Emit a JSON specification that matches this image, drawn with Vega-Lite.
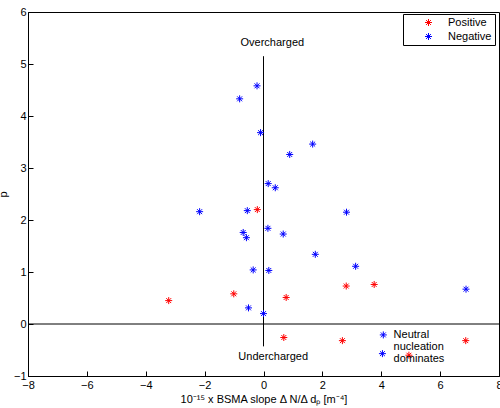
{
  "$schema": "https://vega.github.io/schema/vega-lite/v6.json",
  "width": 471,
  "height": 364,
  "autosize": {"type": "none"},
  "padding": {"left": 28, "top": 12, "right": 1, "bottom": 32},
  "config": {
    "font": "Liberation Sans",
    "view": {"stroke": "black", "strokeWidth": 1},
    "axis": {"grid": false, "domainColor": "black", "tickColor": "black", "labelColor": "black", "titleColor": "black", "labelFontSize": 11, "titleFontSize": 11, "titleFontWeight": "normal", "tickSize": -5, "labelPadding": 8, "labelOverlap": false, "labelBound": false, "labelFlush": false, "format": "d"}
  },
  "datasets": {
    "pts": [
      {"x": -0.81, "y": 4.33, "charge": "Negative"},
      {"x": -0.22, "y": 4.58, "charge": "Negative"},
      {"x": -0.10, "y": 3.68, "charge": "Negative"},
      {"x": 1.67, "y": 3.46, "charge": "Negative"},
      {"x": 0.89, "y": 3.26, "charge": "Negative"},
      {"x": 0.16, "y": 2.70, "charge": "Negative"},
      {"x": 0.40, "y": 2.62, "charge": "Negative"},
      {"x": -2.17, "y": 2.16, "charge": "Negative"},
      {"x": -0.55, "y": 2.18, "charge": "Negative"},
      {"x": -0.69, "y": 1.76, "charge": "Negative"},
      {"x": -0.58, "y": 1.66, "charge": "Negative"},
      {"x": -0.35, "y": 1.04, "charge": "Negative"},
      {"x": -0.51, "y": 0.31, "charge": "Negative"},
      {"x": 0.15, "y": 1.84, "charge": "Negative"},
      {"x": 0.67, "y": 1.73, "charge": "Negative"},
      {"x": 2.82, "y": 2.15, "charge": "Negative"},
      {"x": 1.76, "y": 1.34, "charge": "Negative"},
      {"x": 3.13, "y": 1.11, "charge": "Negative"},
      {"x": 0.18, "y": 1.03, "charge": "Negative"},
      {"x": 6.88, "y": 0.67, "charge": "Negative"},
      {"x": 0.0, "y": 0.20, "charge": "Negative"},
      {"x": -3.22, "y": 0.45, "charge": "Positive"},
      {"x": -1.01, "y": 0.58, "charge": "Positive"},
      {"x": -0.21, "y": 2.20, "charge": "Positive"},
      {"x": 0.77, "y": 0.51, "charge": "Positive"},
      {"x": 2.81, "y": 0.73, "charge": "Positive"},
      {"x": 3.76, "y": 0.76, "charge": "Positive"},
      {"x": 0.69, "y": -0.26, "charge": "Positive"},
      {"x": 2.68, "y": -0.32, "charge": "Positive"},
      {"x": 6.87, "y": -0.32, "charge": "Positive"},
      {"x": 4.94, "y": -0.60, "charge": "Positive"}
    ],
    "annoPts": [
      {"x": 4.07, "y": -0.21},
      {"x": 4.04, "y": -0.57}
    ],
    "labels": [
      {"x": 0.3, "y": 5.40, "text": "Overcharged"},
      {"x": 0.33, "y": -0.63, "text": "Undercharged"}
    ],
    "neutral": [
      {"x": 4.42, "y": -0.21, "text": "Neutral"},
      {"x": 4.42, "y": -0.44, "text": "nucleation"},
      {"x": 4.42, "y": -0.67, "text": "dominates"}
    ]
  },
  "layer": [
    {
      "data": {"values": [{"y": 0}]},
      "mark": {"type": "rule", "color": "black", "strokeWidth": 1},
      "encoding": {
        "y": {"field": "y", "type": "quantitative", "scale": {"domain": [-1, 6], "nice": false}, "axis": {"values": [-1, 0, 1, 2, 3, 4, 5, 6], "format": "d", "title": "p", "titlePadding": 5, "labelPadding": 7}}
      }
    },
    {
      "data": {"values": [{"x": 0, "y": -0.43, "y2": 5.15}]},
      "mark": {"type": "rule", "color": "black", "strokeWidth": 1},
      "encoding": {
        "x": {"field": "x", "type": "quantitative", "scale": {"domain": [-8, 8], "nice": false}, "axis": {"values": [-8, -6, -4, -2, 0, 2, 4, 6, 8], "format": "d", "title": "10⁻¹⁵ x BSMA slope Δ N/Δ dₚ [m⁻⁴]", "titlePadding": 3, "labelPadding": 8}},
        "y": {"field": "y", "type": "quantitative"},
        "y2": {"field": "y2"}
      }
    },
    {
      "data": {"name": "pts"},
      "mark": {"type": "point", "shape": "M-1,0H1M0,-1V1M-0.7,-0.7L0.7,0.7M-0.7,0.7L0.7,-0.7", "filled": false, "size": 49, "strokeWidth": 1, "opacity": 1},
      "encoding": {
        "x": {"field": "x", "type": "quantitative"},
        "y": {"field": "y", "type": "quantitative"},
        "color": {
          "field": "charge", "type": "nominal",
          "scale": {"domain": ["Positive", "Negative"], "range": ["red", "blue"]},
          "legend": {
            "title": null, "orient": "none", "legendX": 375, "legendY": 2,
            "strokeColor": "black", "fillColor": "white", "padding": 3,
            "symbolType": "M-1,0H1M0,-1V1M-0.7,-0.7L0.7,0.7M-0.7,0.7L0.7,-0.7",
            "symbolSize": 49, "symbolStrokeWidth": 1, "symbolFillColor": "transparent",
            "symbolOffset": 17, "labelOffset": 14, "labelFontSize": 11, "labelColor": "black", "rowPadding": 2
          }
        }
      }
    },
    {
      "data": {"name": "annoPts"},
      "mark": {"type": "point", "shape": "M-1,0H1M0,-1V1M-0.7,-0.7L0.7,0.7M-0.7,0.7L0.7,-0.7", "filled": false, "size": 49, "strokeWidth": 1, "color": "blue", "opacity": 1},
      "encoding": {
        "x": {"field": "x", "type": "quantitative"},
        "y": {"field": "y", "type": "quantitative"}
      }
    },
    {
      "data": {"name": "labels"},
      "mark": {"type": "text", "fontSize": 11, "align": "center", "baseline": "middle", "color": "black"},
      "encoding": {
        "x": {"field": "x", "type": "quantitative"},
        "y": {"field": "y", "type": "quantitative"},
        "text": {"field": "text"}
      }
    },
    {
      "data": {"name": "neutral"},
      "mark": {"type": "text", "fontSize": 11, "align": "left", "baseline": "middle", "color": "black"},
      "encoding": {
        "x": {"field": "x", "type": "quantitative"},
        "y": {"field": "y", "type": "quantitative"},
        "text": {"field": "text"}
      }
    }
  ]
}
